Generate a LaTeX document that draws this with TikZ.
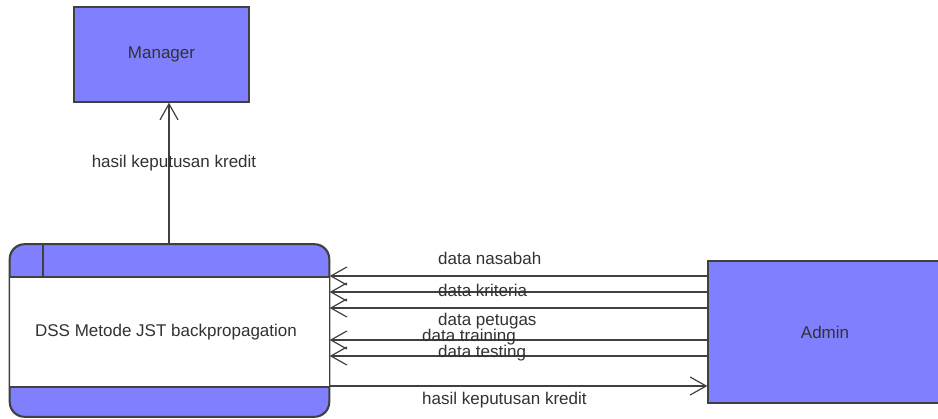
\documentclass[tikz,border=0pt]{standalone}
\usepackage{fontspec}
\setmainfont{Liberation Sans}
\usetikzlibrary{arrows.meta}
\definecolor{boxblue}{RGB}{128,128,255}
\definecolor{linegray}{RGB}{64,64,64}
\definecolor{txtgray}{RGB}{50,50,50}
\tikzset{
  entity/.style={draw=linegray, line width=1.3pt, fill=boxblue, inner sep=0pt, text=txtgray},
  flow/.style={draw=linegray, line width=1.2pt, -{Straight Barb[length=16pt,width=18pt,line width=1.2pt]}},
  lbl/.style={text=txtgray, inner sep=0pt, font=\fontsize{17}{20}\selectfont},
}
\begin{document}
\begin{tikzpicture}[x=1pt,y=-1pt, font=\fontsize{17}{20}\selectfont]
\useasboundingbox (0,0) rectangle (938,419);
% Manager
\node[entity, minimum width=175pt, minimum height=95pt] (mgr) at (161.5,54.5) {Manager};
% Admin (extends past the right edge)
\node[entity, minimum width=240pt, minimum height=142pt, text width=0pt] (adm) at (828,332) {};
\node[lbl, text=txtgray] (admt) at (825,332) {Admin};
% Process
\node[draw=linegray, line width=1.3pt, fill=boxblue, rounded corners=15pt,
      minimum width=319pt, minimum height=172pt, inner sep=0pt] (proc) at (169.5,330.5) {};
\fill[white] (proc.west |- 0,277) rectangle (proc.east |- 0,387);
\draw[linegray, line width=1.3pt] (proc.west |- 0,277) -- (proc.east |- 0,277);
\draw[linegray, line width=1.3pt] (proc.west |- 0,387) -- (proc.east |- 0,387);
\draw[linegray, line width=1.3pt] (43,245) -- (43,277);
\draw[linegray, line width=1.3pt, rounded corners=15pt] (proc.north west) rectangle (proc.south east);
\node[lbl] (proct) at (166,332) {DSS Metode JST backpropagation};
% Flow to Manager
\draw[flow] (proc.north -| 169,0) -- (mgr.south -| 169,0);
\node[lbl] (l0) at (174,163) {hasil keputusan kredit};
% Flows Admin -> process
\draw[flow] (adm.west |- 0,276) -- (proc.east |- 0,276);
\draw[flow] (adm.west |- 0,292) -- (proc.east |- 0,292);
\draw[flow] (adm.west |- 0,308) -- (proc.east |- 0,308);
\draw[flow] (adm.west |- 0,340) -- (proc.east |- 0,340);
\draw[flow] (adm.west |- 0,356) -- (proc.east |- 0,356);
% Flow process -> Admin
\draw[flow] (proc.east |- 0,386) -- (adm.west |- 0,386);
% Labels
\node[lbl, anchor=west] (l1) at (438,258) {data nasabah};
\node[lbl, anchor=west] (l2) at (438,290) {data kriteria};
\node[lbl, anchor=west] (l3) at (438,321) {data petugas};
\node[lbl, anchor=west] (l4) at (422,337) {data training};
\node[lbl, anchor=west] (l5) at (438,353) {data testing};
\node[lbl, anchor=west] (l6) at (422,400) {hasil keputusan kredit};
\end{tikzpicture}
\end{document}
